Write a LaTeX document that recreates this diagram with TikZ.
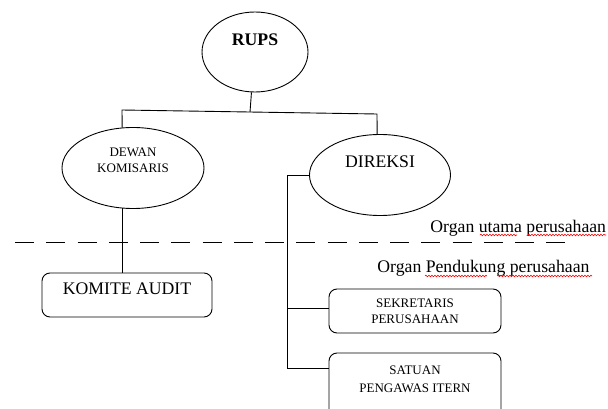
\documentclass[tikz,border=0pt]{standalone}
\usepackage{fontspec}
\setmainfont{Liberation Serif}
\usetikzlibrary{shapes.geometric,decorations.pathmorphing}
\begin{document}
\begin{tikzpicture}[x=1pt,y=-1pt,
  line width=0.9pt,
  oval/.style={draw, ellipse, inner sep=0pt, align=center},
  box/.style={draw, rounded corners=8pt, inner sep=0pt, align=center},
  big/.style={font=\fontsize{17.7}{20}\selectfont},
  small/.style={font=\fontsize{13}{16}\selectfont},
  wavy/.style={red, line width=0.6pt, decorate, decoration={snake, amplitude=0.8pt, segment length=3pt}},
]
\useasboundingbox (0,0) rectangle (608,409);

\node[oval, minimum width=106pt, minimum height=80pt, text depth=24pt, font=\fontsize{17.7}{20}\selectfont\bfseries] (rups) at (255,52) {RUPS};
\node[oval, small, minimum width=142pt, minimum height=81pt, text depth=16pt] (dewan) at (133,168) {DEWAN\\KOMISARIS};
\node[oval, big, minimum width=141pt, minimum height=81pt, text depth=26pt] (direksi) at (380,175) {DIREKSI};

\node[box, big, minimum width=170pt, minimum height=44pt, text depth=12pt] (komite) at (127,295) {KOMITE AUDIT};
\node[box, small, minimum width=172pt, minimum height=44pt] (sekr) at (415,311) {SEKRETARIS\\PERUSAHAAN};
\node[box, font=\fontsize{13}{18}\selectfont, minimum width=172pt, minimum height=65pt, text depth=13pt] (satuan) at (415,385.5) {SATUAN\\PENGAWAS ITERN};

\coordinate (bl) at (122,110);
\coordinate (bm) at (250,112);
\coordinate (br) at (377,114);
\draw (rups.265) -- (bm);
\draw (dewan.105) -- (bl) -- (br) -- (direksi.94);
\draw (dewan.255) -- (dewan.255 |- komite.north);

\coordinate (dk) at ([xshift=-22pt]direksi.west);
\draw (direksi.west) -- (dk) |- ([yshift=17.5pt]satuan.west);
\draw ([yshift=3pt]sekr.west) -- ([yshift=3pt]sekr.west -| dk);

\coordinate (dl) at (15,242);
\coordinate (dr) at (565,242);
\draw[dash pattern=on 19pt off 12.25pt] (dl) -- (dr);

\node[big, anchor=base west, inner sep=0pt] (utama) at (430,232) {Organ utama perusahaan};
\node[big, anchor=base west, inner sep=0pt] (pendukung) at (377,272) {Organ Pendukung perusahaan};

\draw[wavy] (480,235) -- (517,235);
\draw[wavy] (528,235) -- (606,235);
\draw[wavy] (425,276) -- (487,276);
\draw[wavy] (497,276) -- (592,276);
\end{tikzpicture}
\end{document}
